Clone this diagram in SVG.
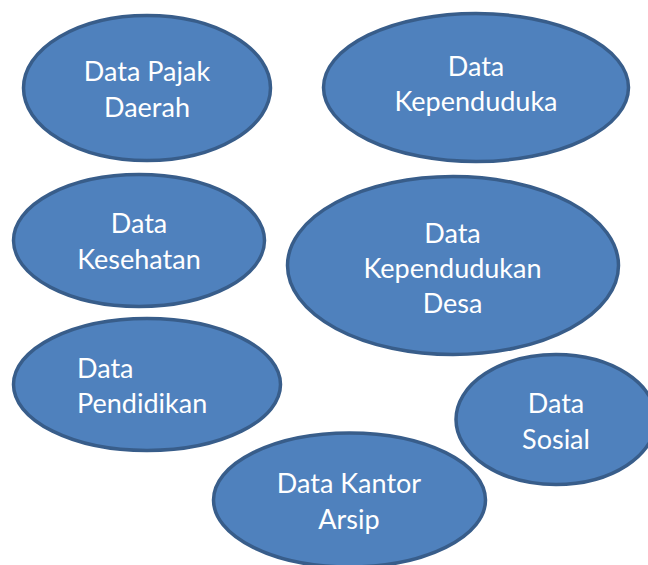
<svg xmlns="http://www.w3.org/2000/svg" width="648" height="565" viewBox="0 0 648 565">
<style>
.n ellipse{fill:#4F81BD;stroke:#385D8A;stroke-width:3.5}
.n text{fill:#FFFFFF;font-family:Lato,"Noto Sans",sans-serif;font-size:27px;text-anchor:middle}
</style>
<rect width="648" height="565" fill="#FFFFFF"/>
<g id="connectors"/>
<g id="pajak" class="n"><ellipse cx="147" cy="88" rx="123.5" ry="72.5"/><text x="147" y="81">Data Pajak</text><text x="147" y="117">Daerah</text></g>
<g id="kependuduka" class="n"><ellipse cx="476" cy="87.5" rx="152.5" ry="74"/><text x="476" y="76">Data</text><text x="476" y="111">Kependuduka</text></g>
<g id="kesehatan" class="n"><ellipse cx="139" cy="240.5" rx="125.5" ry="66"/><text x="139" y="233">Data</text><text x="139" y="269">Kesehatan</text></g>
<g id="kependudukan-desa" class="n"><ellipse cx="453" cy="265.5" rx="165.5" ry="89"/><text x="452.5" y="243">Data</text><text x="452.5" y="278">Kependudukan</text><text x="452.5" y="313">Desa</text></g>
<g id="pendidikan" class="n"><ellipse cx="147" cy="384.5" rx="133.5" ry="66"/><text x="77" y="378" style="text-anchor:start">Data</text><text x="77" y="413" style="text-anchor:start">Pendidikan</text></g>
<g id="sosial" class="n"><ellipse cx="556" cy="419.5" rx="100" ry="65"/><text x="556" y="413">Data</text><text x="556" y="449">Sosial</text></g>
<g id="kantor-arsip" class="n"><ellipse cx="349.5" cy="500" rx="136" ry="67"/><text x="349" y="493">Data Kantor</text><text x="349" y="529">Arsip</text></g>
</svg>
